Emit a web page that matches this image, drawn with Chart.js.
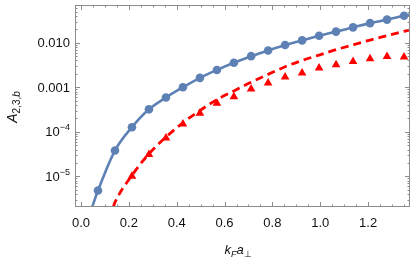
<!DOCTYPE html>
<html>
<head>
<meta charset="utf-8">
<script src="https://cdn.jsdelivr.net/npm/chart.js@4.4.1/dist/chart.umd.min.js"></script>
<style>
  html, body { margin: 0; padding: 0; background: #fff; }
  #wrap { width: 415px; height: 259px; }
</style>
</head>
<body>
<div id="wrap"><canvas id="chart" width="415" height="259"></canvas></div>
<script>
// sample points k_F a_perp
const kValues = [0.071, 0.142, 0.213, 0.284, 0.355, 0.426, 0.497, 0.568, 0.639, 0.711,
                 0.782, 0.853, 0.924, 0.995, 1.066, 1.137, 1.208, 1.279, 1.350];
// blue circles
const circleVals = [4.8e-6, 3.8e-5, 1.27e-4, 3.2e-4, 5.9e-4, 1.0e-3, 1.63e-3, 2.45e-3, 3.55e-3, 5.0e-3,
                    6.7e-3, 8.9e-3, 0.0113, 0.0144, 0.0178, 0.0222, 0.0276, 0.0331, 0.0404];
// red triangles (first two below the plot range)
const triangleVals = [null, null, 1.0e-5, 3.1e-5, 7.3e-5, 1.5e-4, 2.6e-4, 4.4e-4, 6.1e-4, 9.2e-4,
                      1.25e-3, 1.7e-3, 2.1e-3, 2.7e-3, 3.2e-3, 3.8e-3, 4.4e-3, 4.9e-3, 4.8e-3];
// solid blue curve
const solidX = [0.047, 0.071, 0.142, 0.213, 0.284, 0.355, 0.426, 0.497, 0.568, 0.639, 0.711,
                0.782, 0.853, 0.924, 0.995, 1.066, 1.137, 1.208, 1.279, 1.350, 1.375];
const solidY = [2.05e-6, 4.8e-6, 3.8e-5, 1.27e-4, 3.2e-4, 5.9e-4, 1.0e-3, 1.63e-3, 2.45e-3, 3.55e-3, 5.0e-3,
                6.7e-3, 8.9e-3, 0.0113, 0.0144, 0.0178, 0.0222, 0.0276, 0.0331, 0.0404, 0.043];
// dashed red curve
const dashedX = [0.135, 0.142, 0.213, 0.284, 0.355, 0.426, 0.497, 0.568, 0.639, 0.711,
                 0.782, 0.853, 0.924, 0.995, 1.066, 1.137, 1.208, 1.279, 1.350, 1.375];
const dashedY = [2.05e-6, 2.6e-6, 1.05e-5, 3.2e-5, 7.6e-5, 1.6e-4, 3.0e-4, 5.3e-4, 8.3e-4, 1.3e-3,
                 1.95e-3, 2.9e-3, 4.0e-3, 5.3e-3, 7.0e-3, 9.0e-3, 0.0115, 0.0145, 0.018, 0.0195];

const xTicks = [0, 0.2, 0.4, 0.6, 0.8, 1.0, 1.2];
const yTicks = [1e-5, 1e-4, 1e-3, 1e-2];
const yTickText = [['10', '\u22125'], ['10', '\u22124'], ['0.001', ''], ['0.010', '']];

const BLUE = '#5E81B5';
const RED = '#FF0000';
const FRAME = '#8c8c8c';
const FONT = '"Liberation Sans", Arial, sans-serif';

function pts(xs, ys) {
    return xs.map((x, i) => ({ x: x, y: ys[i] })).filter(p => p.y !== null);
}

// frame with inward ticks, y labels with superscripts and axis titles
const framePlugin = {
    id: 'frame',
    afterDatasetsDraw(chart) {
        const ctx = chart.ctx;
        const a = chart.chartArea;
        const sx = chart.scales.x, sy = chart.scales.y;
        ctx.save();
        ctx.strokeStyle = FRAME;
        ctx.lineWidth = 1;
        ctx.strokeRect(a.left + 0.5, a.top + 0.5, a.right - a.left - 1, a.bottom - a.top - 1);

        ctx.beginPath();
        for (let i = 0; i <= 27; i++) {
            const v = i * 0.05;
            const px = Math.round(sx.getPixelForValue(v)) + 0.5;
            const len = (i % 4 === 0) ? 5 : 2.5;
            ctx.moveTo(px, a.bottom); ctx.lineTo(px, a.bottom - len);
            ctx.moveTo(px, a.top); ctx.lineTo(px, a.top + len);
        }
        for (let d = -6; d <= -2; d++) {
            for (let m = 1; m <= 9; m++) {
                const v = m * Math.pow(10, d);
                if (v < sy.min || v > sy.max) continue;
                const py = Math.round(sy.getPixelForValue(v)) + 0.5;
                const len = (m === 1) ? 5 : 2.5;
                ctx.moveTo(a.left, py); ctx.lineTo(a.left + len, py);
                ctx.moveTo(a.right, py); ctx.lineTo(a.right - len, py);
            }
        }
        ctx.stroke();

        // y tick labels
        ctx.fillStyle = '#111';
        ctx.textBaseline = 'middle';
        ctx.textAlign = 'left';
        const xr = a.left - 5;
        yTicks.forEach((v, i) => {
            const py = sy.getPixelForValue(v);
            const base = yTickText[i][0], sup = yTickText[i][1];
            ctx.font = '13px ' + FONT;
            const wb = ctx.measureText(base).width;
            ctx.font = '9px ' + FONT;
            const ws = sup ? ctx.measureText(sup).width : 0;
            const x0 = xr - wb - ws;
            ctx.font = '13px ' + FONT;
            ctx.fillText(base, x0, py + 1);
            if (sup) {
                ctx.font = '9px ' + FONT;
                ctx.fillText(sup, x0 + wb, py - 4);
            }
        });

        // axis titles
        ctx.textBaseline = 'alphabetic';
        const drawParts = (parts, cx, cy) => {
            let w = 0;
            parts.forEach(p => { ctx.font = p[1]; w += ctx.measureText(p[0]).width; });
            let x = cx - w / 2;
            parts.forEach(p => {
                ctx.font = p[1];
                ctx.fillText(p[0], x, cy + p[2]);
                x += ctx.measureText(p[0]).width;
            });
        };
        drawParts([
            ['k', 'italic 13px ' + FONT, 0],
            ['F', 'italic 9px ' + FONT, 3],
            ['a', 'italic 13px ' + FONT, 0],
            ['\u22A5', '9px ' + FONT, 3]
        ], 238, 254);

        ctx.save();
        ctx.translate(17, 107);
        ctx.rotate(-Math.PI / 2);
        drawParts([
            ['A', 'italic 14px ' + FONT, 0],
            ['2,3,', '10px ' + FONT, 3],
            ['b', 'italic 10px ' + FONT, 3]
        ], 0, 0);
        ctx.restore();
        ctx.restore();
    }
};

new Chart(document.getElementById('chart').getContext('2d'), {
    type: 'scatter',
    data: {
        datasets: [
            {
                data: pts(solidX, solidY),
                showLine: true,
                borderColor: BLUE,
                borderWidth: 2.6,
                pointRadius: 0,
                cubicInterpolationMode: 'monotone'
            },
            {
                data: pts(dashedX, dashedY),
                showLine: true,
                borderColor: RED,
                borderWidth: 2.8,
                borderDash: [8, 5],
                pointRadius: 0,
                cubicInterpolationMode: 'monotone'
            },
            {
                data: pts(kValues, circleVals),
                pointStyle: 'circle',
                pointRadius: 4.3,
                backgroundColor: BLUE,
                borderColor: BLUE,
                borderWidth: 0
            },
            {
                data: pts(kValues, triangleVals),
                pointStyle: 'triangle',
                pointRadius: 5,
                backgroundColor: RED,
                borderColor: RED,
                borderWidth: 0
            }
        ]
    },
    options: {
        responsive: false,
        animation: false,
        layout: { padding: { left: 0, right: 4, top: 1, bottom: 0 } },
        plugins: { legend: { display: false }, tooltip: { enabled: false } },
        scales: {
            x: {
                type: 'linear',
                min: -0.025,
                max: 1.375,
                afterBuildTicks: scale => { scale.ticks = xTicks.map(v => ({ value: v })); },
                afterFit: scale => { scale.height = 52; },
                ticks: {
                    callback: v => v.toFixed(1),
                    font: { family: FONT, size: 13 },
                    color: '#111',
                    padding: 9,
                    maxRotation: 0
                },
                grid: { display: false, drawTicks: false },
                border: { display: false }
            },
            y: {
                type: 'logarithmic',
                min: 2.05e-6,
                max: 0.0705,
                afterFit: scale => { scale.width = 75; },
                ticks: { display: false },
                grid: { display: false, drawTicks: false },
                border: { display: false }
            }
        }
    },
    plugins: [framePlugin]
});
</script>
</body>
</html>
